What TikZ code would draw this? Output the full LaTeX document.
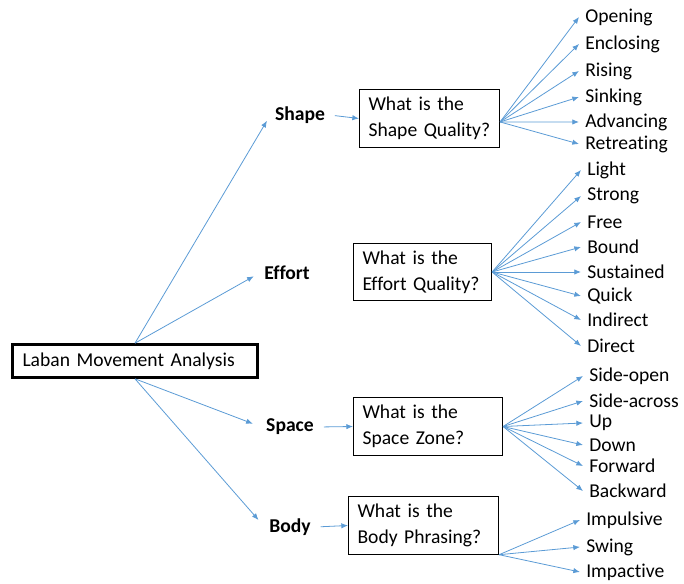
\documentclass[tikz,border=0pt]{standalone}
\usepackage{fontspec}
\setmainfont{Carlito}[Ligatures=NoCommon]
\usepackage{xcolor}
\definecolor{lmablue}{RGB}{91,155,213}
\usepackage{tikz}
\usetikzlibrary{arrows.meta, positioning}

\newcommand{\lmafont}{\fontsize{14.7pt}{19.5pt}\selectfont}

\tikzset{
  link/.style={-{Latex[length=5pt,width=4pt]}, lmablue, line width=0.6pt},
  qbox/.style={draw, line width=0.8pt, anchor=west, align=left,
               inner xsep=6.75pt, inner ysep=3pt, minimum height=43pt},
  aspect/.style={font=\lmafont\bfseries},
  leaf/.style={anchor=west, inner xsep=4.5pt}
}

\begin{document}
\begin{tikzpicture}[x=0.75pt, y=-0.75pt, every node/.style={font=\lmafont}]
\useasboundingbox (0,0) rectangle (684,584);

% === Root ===
\node[draw, line width=2pt, align=left, text width=168.75pt, inner xsep=7.5pt,
      minimum height=24.75pt] (lma) at (135,361) {Laban Movement Analysis};

% === Aspects ===
\node[aspect] (shape) at (300,115) {Shape};
\node[aspect] (effort) at (287,273) {Effort};
\node[aspect] (space) at (290,427) {Space};
\node[aspect] (body) at (290,527) {Body};

\draw[link, shorten >=5pt] (lma.north) -- (shape.west);
\draw[link, shorten >=5pt] (lma.north) -- (effort.west);
\draw[link, shorten >=7pt] (lma.south) -- (space.west);
\draw[link, shorten >=7pt] (lma.south) -- (body.west);

% === Questions ===
\node[qbox, text width=91.5pt] (qshape) at (359,118.5) {What is the\\Shape Quality?};
\node[qbox, text width=90pt] (qeffort) at (353,272) {What is the\\Effort Quality?};
\node[qbox, text width=98.25pt] (qspace) at (353,426.5) {What is the\\Space Zone?};
\node[qbox, text width=99pt] (qbody) at (348,525.5) {What is the\\Body Phrasing?};

\draw[link, shorten <=4pt] (shape.east) -- (qshape.west);
\draw[link, shorten <=4pt] (space.east) -- (qspace.west);
\draw[link, shorten <=4pt] (body.east) -- (qbody.west);

% === Shape qualities ===
\node[leaf] (opening) at (579,17) {Opening};
\node[leaf] (enclosing) at (579,44) {Enclosing};
\node[leaf] (rising) at (579,71) {Rising};
\node[leaf] (sinking) at (579,97) {Sinking};
\node[leaf] (advancing) at (579,122) {Advancing};
\node[leaf] (retreating) at (579,144) {Retreating};
\foreach \q in {opening, enclosing, rising, sinking, advancing, retreating}
  \draw[link] ([yshift=-2.6pt]qshape.east) -- (\q.west);

% === Effort qualities ===
\node[leaf] (light) at (581,170) {Light};
\node[leaf] (strong) at (581,196) {Strong};
\node[leaf] (free) at (581,222) {Free};
\node[leaf] (bound) at (581,247) {Bound};
\node[leaf] (sustained) at (581,272) {Sustained};
\node[leaf] (quick) at (581,296) {Quick};
\node[leaf] (indirect) at (581,320) {Indirect};
\node[leaf] (direct) at (581,346) {Direct};
\foreach \q in {light, strong, free, bound, sustained, quick, indirect, direct}
  \draw[link] (qeffort.east) -- (\q.west);

% === Space zones ===
\node[leaf] (sideopen) at (583,376) {Side-open};
\node[leaf] (sideacross) at (583,401) {Side-across};
\node[leaf] (up) at (583,423) {Up};
\node[leaf] (down) at (583,445) {Down};
\node[leaf] (forward) at (583,466) {Forward};
\node[leaf] (backward) at (583,491) {Backward};
\foreach \q in {sideopen, sideacross, up, down, forward, backward}
  \draw[link] (qspace.east) -- (\q.west);

% === Body phrasing ===
\node[leaf] (impulsive) at (580,520) {Impulsive};
\node[leaf] (swing) at (580,547) {Swing};
\node[leaf] (impactive) at (580,572) {Impactive};
\foreach \q in {impulsive, swing, impactive}
  \draw[link] (qbody.south east) -- (\q.west);

\end{tikzpicture}
\end{document}
